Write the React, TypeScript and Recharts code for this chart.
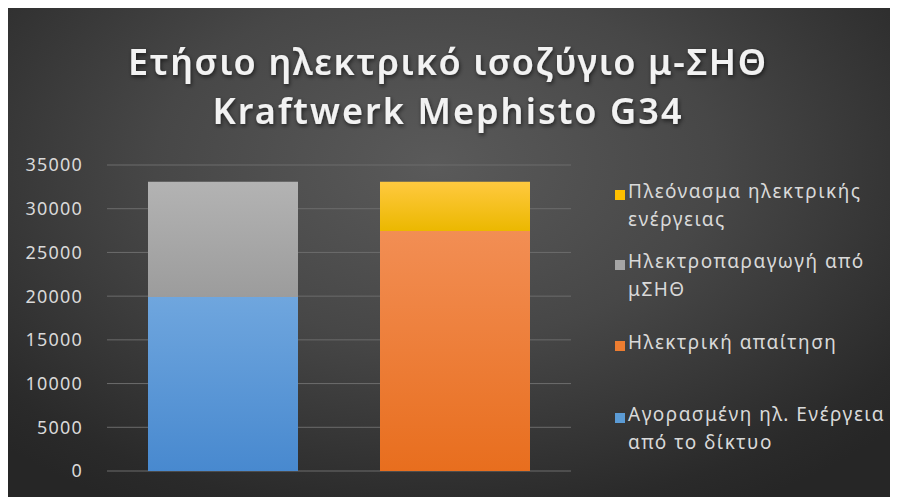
import React from 'react';
import { BarChart, Bar, XAxis, YAxis, CartesianGrid } from 'recharts';

const categories = ['Πηγές', 'Χρήσεις'];
const purchasedGrid = [19900, 0];
const chpGeneration = [13170, 0];
const electricDemand = [0, 27460];
const electricSurplus = [0, 5610];
const yTicks = [0, 5000, 10000, 15000, 20000, 25000, 30000, 35000];
const titleLines = ['Ετήσιο ηλεκτρικό ισοζύγιο μ-ΣΗΘ', 'Kraftwerk Mephisto G34'];

const series = [
  { key: 'purchased', name: 'Αγορασμένη ηλ. Ενέργεια από το δίκτυο', values: purchasedGrid, top: '#6FA6DE', bottom: '#4889CF', swatch: '#5B9BD5' },
  { key: 'chp', name: 'Ηλεκτροπαραγωγή από μΣΗΘ', values: chpGeneration, top: '#B3B3B3', bottom: '#9C9C9C', swatch: '#A5A5A5' },
  { key: 'demand', name: 'Ηλεκτρική απαίτηση', values: electricDemand, top: '#F28E54', bottom: '#E86E1E', swatch: '#ED7D31' },
  { key: 'surplus', name: 'Πλεόνασμα ηλεκτρικής ενέργειας', values: electricSurplus, top: '#FFC93F', bottom: '#EBB800', swatch: '#FFC000' },
];
const legendOrder = ['surplus', 'chp', 'demand', 'purchased'];

const data = categories.map((c, i) => {
  const row: Record<string, string | number> = { category: c };
  series.forEach((s) => { row[s.key] = s.values[i]; });
  return row;
});

const FONT = '"Noto Sans", "Open Sans", sans-serif';
const slotHeights = [70, 81, 72, 60];
const titleWidths = [638, 469];

export default function App() {
  const legendItems = legendOrder.map((k) => series.find((s) => s.key === k)!);
  return (
    <div style={{ position: 'relative', width: 890, height: 489, overflow: 'hidden',
      background: 'radial-gradient(ellipse 70% 80% at 48% 32%, #5a5a5a 0%, #474747 45%, #2a2a2a 90%, #262626 100%)' }}>
      <BarChart width={890} height={489} data={data}
        margin={{ top: 157, right: 327, bottom: 26, left: 0 }}>
        <defs>
          {series.map((s) => (
            <linearGradient key={s.key} id={`g-${s.key}`} x1="0" y1="0" x2="0" y2="1">
              <stop offset="0%" stopColor={s.top} />
              <stop offset="100%" stopColor={s.bottom} />
            </linearGradient>
          ))}
        </defs>
        <CartesianGrid vertical={false} stroke="#6c6c6c" strokeWidth={1} />
        <XAxis dataKey="category" hide />
        <YAxis width={99} domain={[0, 35000]} ticks={yTicks} interval={0}
          axisLine={false} tickLine={false} tickMargin={18}
          tick={{ fill: '#d9d9d9', fontSize: 18, fontFamily: FONT, letterSpacing: 1.2 }} />
        {series.map((s) => (
          <Bar key={s.key} dataKey={s.key} name={s.name} stackId="a" barSize={150}
            fill={`url(#g-${s.key})`} isAnimationActive={false} />
        ))}
      </BarChart>
      <svg width={890} height={150} style={{ position: 'absolute', left: 0, top: 0, pointerEvents: 'none' }}>
        <defs>
          <filter id="tshadow" x="-10%" y="-30%" width="120%" height="160%">
            <feDropShadow dx="1" dy="2" stdDeviation="2" floodColor="#000" floodOpacity="0.6" />
          </filter>
        </defs>
        {titleLines.map((t, i) => (
          <text key={i} x={439} y={67 + i * 49} textAnchor="middle" fill="#f2f2f2"
            fontFamily={FONT} fontWeight={600} fontSize={36}
            textLength={titleWidths[i]} lengthAdjust="spacing"
            filter="url(#tshadow)">{t}</text>
        ))}
      </svg>
      <div style={{ position: 'absolute', left: 607, top: 169, width: 283, fontFamily: FONT,
        fontSize: 19, color: '#d9d9d9', letterSpacing: 1.5 }}>
        {legendItems.map((s, i) => (
          <div key={s.key} style={{ height: slotHeights[i], display: 'flex', alignItems: 'flex-start' }}>
            <span style={{ width: 10, height: 10, background: s.swatch, marginTop: 13, marginRight: 3, flex: 'none' }} />
            <span style={{ lineHeight: '28px', width: 270 }}>{s.name}</span>
          </div>
        ))}
      </div>
    </div>
  );
}
